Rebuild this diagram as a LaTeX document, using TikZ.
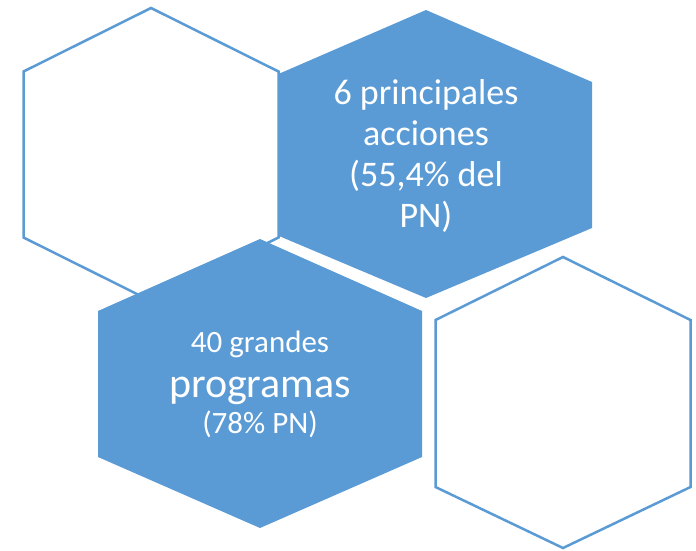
\documentclass[tikz,border=0pt]{standalone}
\usepackage{fontspec}
\setmainfont{Carlito}
\usepackage{tikz}
\def\lefthex{(151,8) -- (278.5,71.5) -- (278.5,237.5) -- (151,301) -- (23.5,237.5) -- (23.5,71.5) -- cycle}
\def\righthex{(426,10) -- (592,82) -- (592,228) -- (426,298) -- (260,228) -- (260,82) -- cycle}
\def\middlehex{(260,239) -- (422,311) -- (422,457) -- (260,528) -- (98,457) -- (98,311) -- cycle}
\def\lowhex{(563,257) -- (690.5,320) -- (690.5,487) -- (563,548) -- (435.5,487) -- (435.5,320) -- cycle}
\definecolor{hex blue}{RGB}{91,155,213}
\colorlet{hex edge}{hex blue}
\tikzset{filled/.style={fill=hex blue},
	outline/.style={fill=white, draw=hex edge, line width=2.5pt},
	hextext/.style={text=white, align=center, inner sep=0pt}}

\begin{document}
\begin{tikzpicture}[x=1pt,y=-1pt]
		\useasboundingbox (0,0) rectangle (696,550);
		\fill[filled] \righthex;
		\draw[outline] \lefthex;
		\fill[filled] \middlehex;
		\draw[outline] \lowhex;
		
		\node[hextext, font=\fontsize{36}{41}\selectfont] (acciones) at (426,156) {6 principales\\acciones\\(55,4\% del\\PN)};
		\node[hextext, font=\fontsize{31}{37}\selectfont, anchor=base] (grandes) at (260,352) {40 grandes};
		\node[hextext, font=\fontsize{42}{50}\selectfont, anchor=base] (programas) at (260,397) {programas};
		\node[hextext, font=\fontsize{31}{37}\selectfont, anchor=base] (pn) at (260,433) {(78\% PN)};
		\end{tikzpicture}
\end{document}
